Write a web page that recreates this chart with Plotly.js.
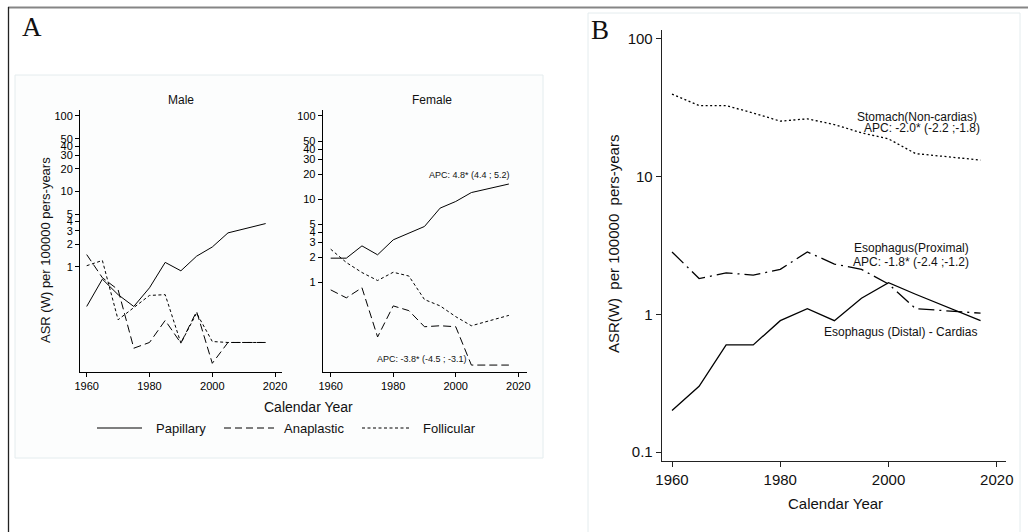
<!DOCTYPE html>
<html>
<head>
<meta charset="utf-8">
<script src="https://cdn.plot.ly/plotly-3.0.1.min.js"></script>
<style>
html,body{margin:0;padding:0;background:#fff;}
#chart{width:1028px;height:532px;}
</style>
</head>
<body>
<div id="chart"></div>
<script>
// ---- data ----
const years = [1960, 1965, 1970, 1975, 1980, 1985, 1990, 1995, 2000, 2005, 2017];

const malePapillary   = [0.30, 0.69, 0.43, 0.30, 0.53, 1.15, 0.89, 1.39, 1.84, 2.83, 3.76];
const maleAnaplastic  = [1.46, 0.72, 0.50, 0.084, 0.10, 0.196, 0.098, 0.258, 0.053, 0.10, 0.10];
const maleFollicular  = [1.04, 1.22, 0.20, 0.286, 0.42, 0.43, 0.098, 0.245, 0.103, 0.10, 0.10];

const femalePapillary  = [1.95, 1.95, 2.74, 2.14, 3.24, 3.89, 4.69, 7.8, 9.37, 12.0, 15.2];
const femaleAnaplastic = [0.81, 0.65, 0.86, 0.22, 0.52, 0.456, 0.292, 0.30, 0.292, 0.101, 0.101];
const femaleFollicular = [2.5, 1.73, 1.31, 1.05, 1.32, 1.19, 0.62, 0.52, 0.386, 0.30, 0.40];

const esophagusDistal   = [0.2, 0.3, 0.6, 0.6, 0.9, 1.1, 0.9, 1.31, 1.7, 1.4, 0.9];
const esophagusProximal = [2.84, 1.82, 2.0, 1.93, 2.12, 2.84, 2.32, 2.12, 1.66, 1.1, 1.02];
const stomachNonCardia  = [39.8, 32.8, 32.8, 29.0, 25.3, 26.3, 23.9, 20.8, 18.8, 14.7, 13.2];

const seriesNamesA = ["Papillary", "Anaplastic", "Follicular"];
const yTicksA = [1, 2, 3, 4, 5, 10, 20, 30, 40, 50, 100];
const yTicksB = [0.1, 1, 10, 100];
const yTickTextB = ["0.1", "1", "10", "100"];
const xTicks = [1960, 1980, 2000, 2020];

// ---- helpers for page placement ----
const W = 1028, H = 532;
const px = v => v / W;
const py = v => 1 - v / H;
const FONT = "Liberation Sans, Arial, Helvetica, sans-serif";

const dashA = {Papillary: "solid", Anaplastic: "8px,4px", Follicular: "3px,2.5px"};
const lineA = name => ({color: "#000", width: 1, dash: dashA[name]});

const traces = [];
[[malePapillary, maleAnaplastic, maleFollicular, "x", "y"],
 [femalePapillary, femaleAnaplastic, femaleFollicular, "x2", "y2"]].forEach(g => {
  for (let i = 0; i < 3; i++) {
    traces.push({
      type: "scatter", mode: "lines", x: years, y: g[i],
      name: seriesNamesA[i], xaxis: g[3], yaxis: g[4],
      line: lineA(seriesNamesA[i]), showlegend: false, hoverinfo: "skip"
    });
  }
});
traces.push({type: "scatter", mode: "lines", x: years, y: stomachNonCardia, name: "Stomach(Non-cardias)",
  xaxis: "x3", yaxis: "y3", line: {color: "#000", width: 1.3, dash: "2px,2.5px"}, showlegend: false, hoverinfo: "skip"});
traces.push({type: "scatter", mode: "lines", x: years, y: esophagusProximal, name: "Esophagus(Proximal)",
  xaxis: "x3", yaxis: "y3", line: {color: "#000", width: 1.3, dash: "16px,5px,2px,5px"}, showlegend: false, hoverinfo: "skip"});
traces.push({type: "scatter", mode: "lines", x: years, y: esophagusDistal, name: "Esophagus (Distal) - Cardias",
  xaxis: "x3", yaxis: "y3", line: {color: "#000", width: 1.3}, showlegend: false, hoverinfo: "skip"});

const axA = {
  showline: true, linecolor: "#000", linewidth: 1, ticks: "outside", ticklen: 4, tickcolor: "#000",
  showgrid: false, zeroline: false, tickfont: {family: FONT, size: 11, color: "#000"}
};
const yDomA = [py(372), py(109.5)];

const layout = {
  width: W, height: H,
  margin: {l: 0, r: 0, t: 0, b: 0},
  paper_bgcolor: "#fff", plot_bgcolor: "rgba(0,0,0,0)",
  showlegend: false,
  xaxis: Object.assign({}, axA, {domain: [px(80), px(282)], range: [1957.87, 2022.2], tickvals: xTicks, anchor: "y"}),
  yaxis: Object.assign({}, axA, {domain: yDomA, type: "log", range: [-1.391, 2.086], tickvals: yTicksA,
    ticktext: yTicksA.map(String), anchor: "x"}),
  xaxis2: Object.assign({}, axA, {domain: [px(322.7), px(526.7)], range: [1957.44, 2022.7], tickvals: xTicks, anchor: "y2"}),
  yaxis2: Object.assign({}, axA, {domain: yDomA, type: "log", range: [-1.079, 2.078], tickvals: yTicksA,
    ticktext: yTicksA.map(String), anchor: "x2"}),
  xaxis3: {domain: [px(662), px(1006)], range: [1958.15, 2021.7], tickvals: xTicks, anchor: "y3",
    showline: true, linecolor: "#222", linewidth: 1.3, ticks: "outside", ticklen: 5, tickcolor: "#222",
    showgrid: false, zeroline: false, tickfont: {family: FONT, size: 15, color: "#111"}},
  yaxis3: {domain: [py(461), py(30)], type: "log", range: [-1.065, 2.065], tickvals: yTicksB, ticktext: yTickTextB,
    anchor: "x3", showline: true, linecolor: "#222", linewidth: 1.3, ticks: "outside", ticklen: 5, tickcolor: "#222",
    showgrid: false, zeroline: false, tickfont: {family: FONT, size: 15, color: "#111"}},
  shapes: [
    {type: "rect", xref: "paper", yref: "paper", x0: px(15), x1: px(543), y0: py(458), y1: py(75),
      line: {color: "#e4ecee", width: 1}, fillcolor: "rgba(250,252,252,0.6)", layer: "below"},
    {type: "rect", xref: "paper", yref: "paper", x0: px(588), x1: px(1020), y0: py(545), y1: py(13),
      line: {color: "#e4ecee", width: 1}, fillcolor: "rgba(0,0,0,0)", layer: "below"},
    {type: "line", xref: "paper", yref: "paper", x0: px(8), x1: px(1028), y0: py(7.5), y1: py(7.5),
      line: {color: "#858585", width: 2}},
    {type: "line", xref: "paper", yref: "paper", x0: px(8.5), x1: px(8.5), y0: py(7), y1: py(532),
      line: {color: "#222", width: 1.3}},
    // legend samples (panel A)
    {type: "line", xref: "paper", yref: "paper", x0: px(97), x1: px(142), y0: py(428), y1: py(428),
      line: {color: "#000", width: 1, dash: dashA.Papillary}},
    {type: "line", xref: "paper", yref: "paper", x0: px(224), x1: px(274), y0: py(428), y1: py(428),
      line: {color: "#000", width: 1, dash: "7px,4px"}},
    {type: "line", xref: "paper", yref: "paper", x0: px(362), x1: px(411), y0: py(428), y1: py(428),
      line: {color: "#000", width: 1, dash: dashA.Follicular}}
  ],
  annotations: []
};

function ann(text, x, y, size, opts) {
  layout.annotations.push(Object.assign({
    text: text, xref: "paper", yref: "paper", x: px(x), y: py(y), showarrow: false,
    xanchor: "center", yanchor: "middle", font: {family: FONT, size: size, color: "#111"}
  }, opts || {}));
}

// panel letters
ann("A", 32, 27, 27, {font: {family: "Liberation Serif, Times New Roman, serif", size: 27, color: "#111"}});
ann("B", 600, 30, 27, {font: {family: "Liberation Serif, Times New Roman, serif", size: 27, color: "#111"}});

// panel A
ann("Male", 181, 100, 12);
ann("Female", 432, 100, 12);
ann("ASR (W) per 100000 pers-years", 45, 250, 13, {textangle: -90});
ann("Calendar Year", 308, 407, 14);
ann("APC: 4.8* (4.4 ; 5.2)", 469, 175, 9);
ann("APC: -3.8* (-4.5 ; -3.1)", 422, 359, 9);
ann(seriesNamesA[0], 154, 428, 13, {xanchor: "left"});
ann(seriesNamesA[1], 282, 428, 13, {xanchor: "left"});
ann(seriesNamesA[2], 421, 428, 13, {xanchor: "left"});

// panel B
ann("ASR(W)\u00a0 per 100000\u00a0 pers-years", 613, 244, 15, {textangle: -90});
ann("Calendar Year", 835, 503, 15);
ann("Stomach(Non-cardias)", 979, 117, 12, {xanchor: "right"});
ann("APC: -2.0* (-2.2 ;-1.8)", 982, 128, 12, {xanchor: "right"});
ann("Esophagus(Proximal)", 971, 248, 12, {xanchor: "right"});
ann("APC: -1.8* (-2.4 ;-1.2)", 971, 262, 12, {xanchor: "right"});
ann("Esophagus (Distal) - Cardias", 979, 332, 12, {xanchor: "right"});

Plotly.newPlot("chart", traces, layout, {staticPlot: true, displayModeBar: false});
</script>
</body>
</html>
